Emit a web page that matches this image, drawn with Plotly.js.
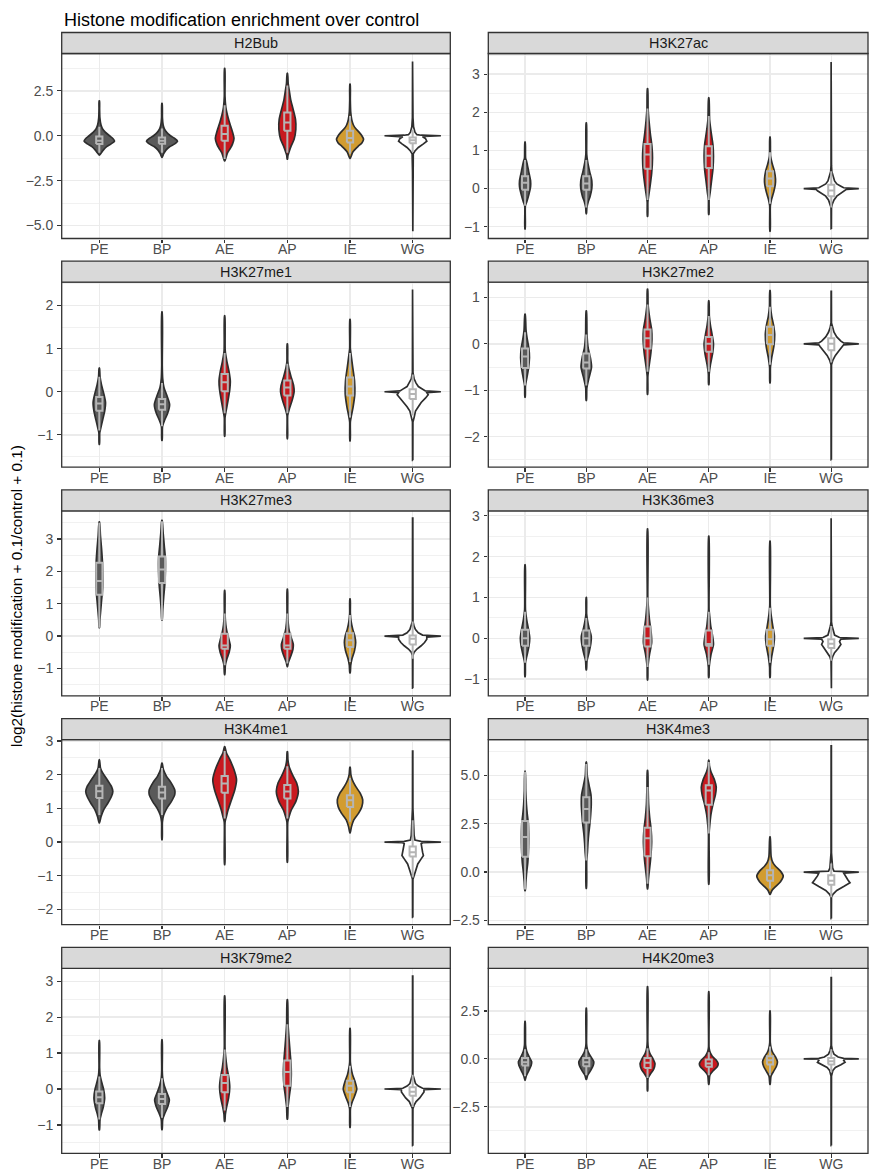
<!DOCTYPE html>
<html><head><meta charset="utf-8">
<script src="https://cdn.plot.ly/plotly-3.0.1.min.js"></script>
<style>html,body{margin:0;padding:0;background:#fff}#chart{width:870px;height:1170px}</style>
</head><body><div id="chart"></div>
<script>
const categories = ['PE','BP','AE','AP','IE','WG'];
const panelNames = ['H2Bub','H3K27ac','H3K27me1','H3K27me2','H3K27me3','H3K36me3','H3K4me1','H3K4me3','H3K79me2','H4K20me3'];

// Violin density profiles: per category, [value, relative density]
const H2Bub_violin = [
 [[-1.07,0.006],[-0.95,0.07],[-0.8,0.14],[-0.6,0.26],[-0.45,0.42],[-0.3,0.54],[-0.15,0.48],[0.0,0.36],[0.2,0.21],[0.4,0.11],[0.6,0.06],[1.0,0.02],[1.5,0.01],[1.94,0.006]],
 [[-1.2,0.006],[-1.0,0.06],[-0.8,0.14],[-0.6,0.28],[-0.45,0.45],[-0.3,0.55],[-0.15,0.45],[0,0.3],[0.2,0.16],[0.4,0.08],[0.6,0.04],[1.0,0.015],[1.8,0.006]],
 [[-1.39,0.006],[-1.2,0.05],[-0.95,0.1],[-0.7,0.2],[-0.45,0.28],[-0.15,0.33],[0.2,0.28],[0.5,0.22],[0.8,0.16],[1.2,0.09],[1.6,0.04],[2.2,0.012],[3.75,0.006]],
 [[-1.3,0.006],[-1.1,0.02],[-0.9,0.06],[-0.55,0.14],[-0.2,0.24],[0.35,0.3],[0.9,0.29],[1.5,0.2],[2.0,0.12],[2.5,0.07],[2.9,0.03],[3.48,0.006]],
 [[-1.26,0.006],[-1.1,0.05],[-0.9,0.1],[-0.6,0.28],[-0.4,0.42],[-0.2,0.48],[0.0,0.42],[0.2,0.32],[0.4,0.2],[0.6,0.12],[0.9,0.06],[1.3,0.025],[2.0,0.01],[2.87,0.006]],
 [[-5.31,0.005],[-2.0,0.006],[-1.0,0.02],[-0.85,0.08],[-0.65,0.2],[-0.45,0.38],[-0.3,0.5],[-0.15,0.45],[-0.06,0.35],[-0.03,0.4],[0,1.0],[0.03,0.3],[0.06,0.15],[0.2,0.08],[0.5,0.03],[1.0,0.01],[4.13,0.005]]
];
const H2Bub_box = [[-0.95,-0.46,-0.28,-0.04,0.5],[-0.95,-0.45,-0.28,-0.1,0.4],[-1.3,-0.28,0.1,0.56,1.7],[-0.95,0.28,0.74,1.3,2.8],[-1.0,-0.37,-0.12,0.28,1.1],[-0.9,-0.41,-0.25,-0.09,0.35]];

const H3K27ac_violin = [
 [[-1.06,0.006],[-0.45,0.012],[-0.35,0.06],[-0.15,0.14],[0.05,0.2],[0.2,0.2],[0.45,0.13],[0.7,0.06],[0.8,0.02],[1.22,0.006]],
 [[-0.66,0.006],[-0.5,0.02],[-0.35,0.07],[-0.2,0.14],[0.0,0.2],[0.2,0.2],[0.45,0.12],[0.7,0.05],[0.9,0.015],[1.72,0.006]],
 [[-0.73,0.006],[-0.35,0.012],[-0.2,0.04],[0.05,0.09],[0.4,0.15],[0.8,0.18],[1.1,0.16],[1.45,0.1],[1.8,0.05],[2.1,0.02],[2.62,0.006]],
 [[-0.68,0.006],[-0.3,0.012],[-0.1,0.05],[0.2,0.1],[0.5,0.15],[0.85,0.17],[1.15,0.15],[1.45,0.09],[1.8,0.03],[2.38,0.006]],
 [[-1.12,0.006],[-0.45,0.012],[-0.3,0.05],[-0.1,0.13],[0.1,0.19],[0.25,0.2],[0.45,0.16],[0.65,0.08],[0.85,0.02],[1.35,0.006]],
 [[-1.06,0.005],[-0.5,0.008],[-0.4,0.04],[-0.3,0.1],[-0.2,0.2],[-0.12,0.35],[-0.06,0.5],[-0.02,0.55],[0,1.0],[0.02,0.45],[0.06,0.35],[0.12,0.2],[0.2,0.12],[0.35,0.06],[0.45,0.02],[0.6,0.008],[3.32,0.005]]
];
const H3K27ac_box = [[-0.45,-0.03,0.15,0.32,0.75],[-0.5,-0.03,0.13,0.32,0.75],[-0.3,0.52,0.89,1.17,2.1],[-0.3,0.54,0.86,1.11,1.9],[-0.4,0.06,0.26,0.45,0.95],[-0.5,-0.2,-0.05,0.1,0.45]];

const H3K27me1_violin = [
 [[-1.22,0.006],[-0.95,0.015],[-0.85,0.05],[-0.65,0.12],[-0.45,0.19],[-0.25,0.22],[-0.05,0.16],[0.15,0.08],[0.35,0.025],[0.55,0.006]],
 [[-1.13,0.006],[-0.8,0.02],[-0.65,0.1],[-0.5,0.2],[-0.3,0.27],[-0.1,0.18],[0.1,0.07],[0.3,0.025],[0.6,0.01],[1.85,0.006]],
 [[-1.03,0.006],[-0.6,0.012],[-0.45,0.05],[-0.2,0.12],[0.05,0.18],[0.25,0.2],[0.45,0.16],[0.7,0.08],[0.95,0.02],[1.76,0.006]],
 [[-1.09,0.006],[-0.55,0.012],[-0.4,0.07],[-0.2,0.17],[0.0,0.24],[0.15,0.22],[0.35,0.13],[0.55,0.05],[0.7,0.015],[1.11,0.006]],
 [[-1.14,0.006],[-0.7,0.012],[-0.55,0.05],[-0.35,0.11],[-0.05,0.17],[0.25,0.16],[0.55,0.1],[0.85,0.04],[1.0,0.012],[1.68,0.006]],
 [[-1.59,0.005],[-0.7,0.008],[-0.6,0.05],[-0.45,0.1],[-0.35,0.2],[-0.25,0.3],[-0.15,0.45],[-0.07,0.55],[-0.02,0.5],[0,1.0],[0.02,0.45],[0.06,0.35],[0.12,0.2],[0.2,0.12],[0.3,0.05],[0.45,0.01],[2.37,0.005]]
];
const H3K27me1_box = [[-0.9,-0.44,-0.27,-0.12,0.35],[-0.8,-0.42,-0.29,-0.17,0.2],[-0.5,0.01,0.22,0.41,0.9],[-0.5,-0.09,0.1,0.26,0.65],[-0.6,-0.09,0.12,0.33,0.9],[-0.55,-0.17,-0.05,0.06,0.4]];

const H3K27me2_violin = [
 [[-1.15,0.006],[-0.9,0.015],[-0.75,0.06],[-0.55,0.12],[-0.3,0.16],[-0.1,0.14],[0.1,0.08],[0.3,0.035],[0.64,0.006]],
 [[-1.22,0.006],[-0.95,0.02],[-0.75,0.09],[-0.5,0.19],[-0.3,0.15],[-0.1,0.07],[0.2,0.025],[0.71,0.006]],
 [[-1.09,0.006],[-0.7,0.012],[-0.5,0.05],[-0.2,0.12],[0.1,0.16],[0.3,0.15],[0.55,0.08],[0.85,0.02],[1.18,0.006]],
 [[-0.88,0.006],[-0.65,0.015],[-0.45,0.06],[-0.2,0.14],[0.0,0.17],[0.2,0.12],[0.4,0.06],[0.6,0.02],[0.93,0.006]],
 [[-0.84,0.006],[-0.5,0.015],[-0.3,0.06],[-0.05,0.14],[0.2,0.17],[0.4,0.13],[0.6,0.06],[0.8,0.02],[1.15,0.006]],
 [[-2.5,0.005],[-0.45,0.008],[-0.35,0.06],[-0.25,0.15],[-0.15,0.28],[-0.06,0.4],[-0.02,0.45],[0,1.0],[0.02,0.45],[0.06,0.35],[0.15,0.2],[0.25,0.1],[0.35,0.04],[0.45,0.008],[1.13,0.005]]
];
const H3K27me2_box = [[-0.9,-0.52,-0.27,-0.1,0.25],[-0.9,-0.53,-0.4,-0.21,0.2],[-0.6,-0.1,0.12,0.31,0.85],[-0.6,-0.17,0.0,0.15,0.6],[-0.45,-0.01,0.19,0.37,0.8],[-0.4,-0.14,0.0,0.12,0.38]];

const H3K27me3_violin = [
 [[0.26,0.006],[0.5,0.02],[0.8,0.05],[1.1,0.08],[1.5,0.12],[1.9,0.12],[2.3,0.11],[2.7,0.08],[3.1,0.04],[3.53,0.006]],
 [[0.5,0.006],[0.8,0.025],[1.2,0.06],[1.6,0.1],[2.0,0.12],[2.4,0.12],[2.8,0.08],[3.2,0.04],[3.58,0.006]],
 [[-1.19,0.006],[-0.9,0.025],[-0.7,0.08],[-0.5,0.16],[-0.3,0.2],[-0.1,0.15],[0.1,0.09],[0.35,0.04],[0.7,0.012],[1.41,0.006]],
 [[-0.94,0.006],[-0.8,0.04],[-0.6,0.13],[-0.4,0.2],[-0.25,0.21],[-0.05,0.14],[0.15,0.07],[0.4,0.03],[0.75,0.012],[1.45,0.006]],
 [[-1.14,0.006],[-0.9,0.025],[-0.7,0.07],[-0.45,0.16],[-0.2,0.2],[0.0,0.17],[0.2,0.1],[0.45,0.04],[0.7,0.012],[1.15,0.006]],
 [[-1.61,0.005],[-0.6,0.008],[-0.5,0.05],[-0.4,0.15],[-0.3,0.3],[-0.2,0.42],[-0.1,0.5],[-0.03,0.5],[0,1.0],[0.03,0.35],[0.1,0.2],[0.2,0.1],[0.3,0.05],[0.45,0.01],[3.65,0.005]]
];
const H3K27me3_box = [[0.26,1.28,1.7,2.27,3.5],[0.5,1.64,2.06,2.46,3.55],[-0.9,-0.39,-0.29,0.07,0.7],[-0.85,-0.39,-0.29,0.07,0.7],[-0.8,-0.34,-0.13,0.09,0.65],[-0.7,-0.26,-0.08,0.02,0.45]];

const H3K36me3_violin = [
 [[-0.94,0.006],[-0.6,0.015],[-0.45,0.06],[-0.2,0.14],[0.0,0.17],[0.2,0.13],[0.45,0.06],[0.7,0.015],[1.8,0.006]],
 [[-0.77,0.006],[-0.55,0.025],[-0.35,0.1],[-0.1,0.17],[0.05,0.18],[0.25,0.1],[0.45,0.04],[0.6,0.012],[1.0,0.006]],
 [[-1.02,0.006],[-0.7,0.015],[-0.4,0.07],[-0.1,0.15],[0.15,0.13],[0.45,0.07],[0.8,0.025],[1.0,0.01],[2.68,0.006]],
 [[-0.96,0.006],[-0.7,0.015],[-0.4,0.08],[-0.15,0.17],[0.05,0.14],[0.3,0.07],[0.6,0.025],[0.7,0.01],[2.5,0.006]],
 [[-0.96,0.006],[-0.7,0.015],[-0.45,0.06],[-0.15,0.14],[0.05,0.16],[0.3,0.1],[0.6,0.035],[0.8,0.01],[2.38,0.006]],
 [[-1.22,0.005],[-0.55,0.008],[-0.45,0.05],[-0.35,0.12],[-0.25,0.25],[-0.15,0.35],[-0.08,0.3],[-0.02,0.35],[0,1.0],[0.02,0.3],[0.08,0.12],[0.2,0.06],[0.3,0.03],[0.4,0.008],[2.94,0.005]]
];
const H3K36me3_box = [[-0.6,-0.18,0.0,0.21,0.65],[-0.55,-0.18,0.0,0.19,0.5],[-0.7,-0.2,0.0,0.29,1.0],[-0.65,-0.18,-0.14,0.19,0.65],[-0.6,-0.18,-0.02,0.21,0.75],[-0.55,-0.24,-0.13,-0.02,0.3]];

const H3K4me1_violin = [
 [[0.57,0.006],[0.75,0.06],[0.95,0.15],[1.15,0.3],[1.35,0.43],[1.5,0.48],[1.65,0.43],[1.85,0.28],[2.05,0.12],[2.2,0.04],[2.44,0.006]],
 [[0.07,0.006],[0.6,0.015],[0.8,0.06],[1.0,0.17],[1.2,0.33],[1.4,0.45],[1.55,0.45],[1.75,0.33],[1.95,0.16],[2.15,0.05],[2.34,0.006]],
 [[-0.67,0.006],[0.6,0.015],[0.75,0.06],[0.95,0.12],[1.25,0.24],[1.55,0.36],[1.85,0.42],[2.15,0.33],[2.45,0.18],[2.65,0.06],[2.83,0.006]],
 [[-0.6,0.006],[0.6,0.015],[0.75,0.06],[0.95,0.14],[1.2,0.3],[1.5,0.39],[1.75,0.33],[2.0,0.18],[2.25,0.06],[2.45,0.02],[2.68,0.006]],
 [[0.27,0.006],[0.45,0.05],[0.65,0.13],[0.85,0.3],[1.05,0.42],[1.25,0.45],[1.45,0.36],[1.65,0.2],[1.85,0.08],[2.0,0.03],[2.22,0.006]],
 [[-2.24,0.005],[-1.1,0.008],[-1.0,0.05],[-0.85,0.1],[-0.65,0.18],[-0.5,0.3],[-0.4,0.38],[-0.3,0.35],[-0.15,0.33],[-0.05,0.3],[-0.02,0.35],[0,1.0],[0.02,0.3],[0.06,0.08],[0.2,0.05],[0.6,0.025],[1.0,0.008],[2.7,0.005]]
];
const H3K4me1_box = [[0.8,1.31,1.51,1.67,2.2],[0.8,1.29,1.47,1.64,2.2],[0.7,1.46,1.74,1.96,2.7],[0.7,1.29,1.5,1.69,2.25],[0.6,1.04,1.24,1.39,1.9],[-1.05,-0.43,-0.3,-0.13,0.65]];

const H3K4me3_violin = [
 [[-0.96,0.006],[-0.5,0.03],[0.0,0.06],[0.5,0.1],[1.0,0.12],[1.5,0.13],[2.0,0.13],[2.5,0.12],[3.0,0.08],[3.5,0.05],[4.2,0.025],[5.22,0.006]],
 [[-0.84,0.006],[0.6,0.015],[1.0,0.04],[1.5,0.06],[2.0,0.09],[2.5,0.13],[3.0,0.16],[3.5,0.18],[4.0,0.17],[4.5,0.1],[5.0,0.035],[5.7,0.006]],
 [[-0.87,0.006],[-0.4,0.03],[0.0,0.06],[0.5,0.1],[1.0,0.13],[1.6,0.15],[2.2,0.13],[2.8,0.08],[3.5,0.04],[4.4,0.02],[5.27,0.006]],
 [[-0.63,0.006],[2.0,0.012],[2.5,0.04],[3.0,0.08],[3.5,0.15],[4.0,0.24],[4.4,0.27],[4.8,0.2],[5.2,0.08],[5.5,0.025],[5.79,0.006]],
 [[-1.15,0.006],[-0.95,0.07],[-0.75,0.2],[-0.5,0.38],[-0.2,0.48],[0.05,0.38],[0.3,0.2],[0.5,0.1],[0.8,0.04],[1.82,0.006]],
 [[-2.41,0.005],[-1.3,0.008],[-1.15,0.06],[-0.95,0.2],[-0.75,0.45],[-0.55,0.68],[-0.4,0.6],[-0.2,0.5],[-0.05,0.45],[0,1.0],[0.05,0.1],[0.2,0.05],[0.5,0.025],[1.0,0.008],[6.53,0.005]]
];
const H3K4me3_box = [[-0.9,0.79,1.82,2.65,5.2],[0.6,2.57,3.26,3.87,5.6],[-0.6,0.82,1.75,2.3,4.4],[2.0,3.49,4.22,4.49,5.7],[-0.85,-0.45,-0.17,0.09,0.6],[-1.3,-0.66,-0.45,-0.17,0.45]];

const H3K79me2_violin = [
 [[-1.14,0.006],[-0.85,0.025],[-0.7,0.07],[-0.5,0.14],[-0.25,0.19],[0.0,0.15],[0.2,0.08],[0.4,0.025],[0.6,0.01],[1.35,0.006]],
 [[-1.13,0.006],[-0.85,0.025],[-0.7,0.09],[-0.5,0.2],[-0.3,0.26],[-0.1,0.17],[0.1,0.08],[0.3,0.025],[0.5,0.01],[1.37,0.006]],
 [[-0.9,0.006],[-0.7,0.025],[-0.5,0.07],[-0.25,0.14],[0.05,0.18],[0.3,0.15],[0.6,0.08],[0.9,0.035],[1.15,0.012],[2.59,0.006]],
 [[-0.84,0.006],[-0.5,0.025],[-0.2,0.07],[0.1,0.12],[0.4,0.14],[0.7,0.13],[1.0,0.1],[1.4,0.06],[1.8,0.025],[2.49,0.006]],
 [[-1.07,0.006],[-0.55,0.015],[-0.4,0.06],[-0.2,0.16],[0.0,0.24],[0.2,0.18],[0.4,0.09],[0.6,0.035],[0.75,0.012],[1.69,0.006]],
 [[-1.58,0.005],[-0.55,0.008],[-0.45,0.05],[-0.35,0.12],[-0.25,0.25],[-0.15,0.35],[-0.08,0.4],[-0.02,0.4],[0,1.0],[0.02,0.35],[0.08,0.2],[0.15,0.1],[0.3,0.04],[0.4,0.008],[3.14,0.005]]
];
const H3K79me2_box = [[-0.85,-0.4,-0.23,-0.07,0.35],[-0.8,-0.42,-0.28,-0.14,0.3],[-0.6,-0.09,0.17,0.39,1.1],[-0.5,0.09,0.47,0.79,1.8],[-0.5,-0.09,0.09,0.23,0.65],[-0.5,-0.19,-0.08,0.05,0.4]];

const H4K20me3_violin = [
 [[-1.1,0.006],[-0.9,0.04],[-0.6,0.14],[-0.35,0.22],[-0.15,0.24],[0.1,0.15],[0.4,0.06],[0.7,0.02],[1.95,0.006]],
 [[-1.07,0.006],[-0.85,0.05],[-0.6,0.16],[-0.35,0.25],[-0.15,0.27],[0.1,0.17],[0.35,0.07],[0.6,0.025],[0.8,0.01],[2.64,0.006]],
 [[-1.67,0.006],[-1.0,0.02],[-0.8,0.1],[-0.55,0.22],[-0.25,0.27],[0.0,0.2],[0.3,0.08],[0.6,0.025],[0.9,0.01],[3.76,0.006]],
 [[-1.33,0.006],[-0.85,0.04],[-0.6,0.17],[-0.4,0.31],[-0.25,0.34],[-0.05,0.26],[0.15,0.12],[0.4,0.035],[0.6,0.01],[3.5,0.006]],
 [[-1.33,0.006],[-0.9,0.035],[-0.65,0.13],[-0.4,0.23],[-0.15,0.27],[0.1,0.2],[0.35,0.09],[0.6,0.035],[0.85,0.01],[2.5,0.006]],
 [[-4.52,0.005],[-0.9,0.008],[-0.6,0.06],[-0.45,0.15],[-0.3,0.35],[-0.18,0.5],[-0.08,0.45],[-0.02,0.5],[0,1.0],[0.03,0.45],[0.1,0.25],[0.25,0.1],[0.45,0.04],[0.7,0.008],[4.24,0.005]]
];
const H4K20me3_box = [[-0.9,-0.34,-0.17,0.05,0.5],[-0.85,-0.38,-0.17,0.05,0.5],[-1.0,-0.47,-0.2,0.05,0.55],[-0.85,-0.41,-0.24,-0.03,0.35],[-0.85,-0.29,-0.07,0.14,0.65],[-0.7,-0.29,-0.12,0.05,0.5]];

const violinData = [H2Bub_violin,H3K27ac_violin,H3K27me1_violin,H3K27me2_violin,H3K27me3_violin,H3K36me3_violin,H3K4me1_violin,H3K4me3_violin,H3K79me2_violin,H4K20me3_violin];
const boxData = [H2Bub_box,H3K27ac_box,H3K27me1_box,H3K27me2_box,H3K27me3_box,H3K36me3_box,H3K4me1_box,H3K4me3_box,H3K79me2_box,H4K20me3_box];

// layout settings
const yRanges = [[-5.72,4.58],[-1.31,3.54],[-1.75,2.54],[-2.66,1.33],[-1.85,3.87],[-1.41,3.12],[-2.45,3.04],[-2.72,6.86],[-1.79,3.36],[-4.92,4.72]];
const yDticks = [2.5,1,1,1,1,1,1,2.5,1,2.5];
const fillColors = ['#5a5a5a','#5a5a5a','#c8191f','#c8191f','#d29c30','#ffffff'];

const W = 870, H = 1170;
const colX = [[61.7,450.3],[488.3,868]];
const rowTop = [53.5,282.2,510.9,739.6,968.3];
const plotH = 185, stripH = 21;
const FONT = 'Liberation Sans, Arial, sans-serif';
const VHALF = 0.45, BHALF = 0.05;
const TICKSIZE = 14;

const traces = [];
const layout = {
  width: W, height: H, margin: {l:0,r:0,t:0,b:0},
  paper_bgcolor: '#fff', plot_bgcolor: '#fff', showlegend: false,
  font: {family: FONT, color: '#4d4d4d'},
  shapes: [], annotations: []
};

panelNames.forEach((name, p) => {
  const col = p % 2, row = Math.floor(p / 2);
  const sfx = p === 0 ? '' : String(p + 1);
  const xa = 'x' + sfx, ya = 'y' + sfx;
  const x0 = colX[col][0] / W, x1 = colX[col][1] / W;
  const yTop = 1 - rowTop[row] / H, yBot = 1 - (rowTop[row] + plotH) / H;
  const sTop = 1 - (rowTop[row] - stripH) / H;
  layout['xaxis' + sfx] = {
    domain: [x0, x1], anchor: ya, range: [0.4, 6.6],
    tickmode: 'array', tickvals: categories.map((c, i) => i + 1), ticktext: categories,
    showgrid: true, gridcolor: '#ebebeb', gridwidth: 1.4, zeroline: false, showline: false,
    ticks: 'outside', ticklen: 3.6, tickwidth: 1.2, tickcolor: '#333333', ticklabelstandoff: -6,
    tickfont: {family: FONT, size: TICKSIZE, color: '#4d4d4d'}, fixedrange: true
  };
  layout['yaxis' + sfx] = {
    domain: [yBot, yTop], anchor: xa, range: yRanges[p],
    tick0: 0, dtick: yDticks[p], tickformat: yDticks[p] === 2.5 ? '.1f' : '',
    showgrid: true, gridcolor: '#ebebeb', gridwidth: 1.4, zeroline: false, showline: false,
    minor: {dtick: yDticks[p] / 2, tick0: 0, showgrid: true, gridcolor: '#ebebeb', gridwidth: 0.7},
    ticks: 'outside', ticklen: 3.6, tickwidth: 1.2, tickcolor: '#333333', ticklabelstandoff: 1,
    tickfont: {family: FONT, size: TICKSIZE, color: '#4d4d4d'}, fixedrange: true
  };
  // panel border
  layout.shapes.push({type:'rect', xref:'paper', yref:'paper', x0:x0, x1:x1, y0:yBot, y1:yTop,
    line:{color:'#333333', width:1.3}, fillcolor:'rgba(0,0,0,0)', layer:'above'});
  // strip
  layout.shapes.push({type:'rect', xref:'paper', yref:'paper', x0:x0, x1:x1, y0:yTop, y1:sTop,
    line:{color:'#333333', width:1.3}, fillcolor:'#d9d9d9', layer:'above'});
  layout.annotations.push({text: name, xref:'paper', yref:'paper', x:(x0+x1)/2, y:(yTop+sTop)/2,
    xanchor:'center', yanchor:'middle', showarrow:false, font:{family:FONT, size:14.4, color:'#1a1a1a'}});

  categories.forEach((cat, g) => {
    const pos = g + 1;
    const prof = violinData[p][g];
    const xs = [], ys = [];
    prof.forEach(pt => { xs.push(pos + VHALF * pt[1]); ys.push(pt[0]); });
    for (let i = prof.length - 1; i >= 0; i--) { xs.push(pos - VHALF * prof[i][1]); ys.push(prof[i][0]); }
    xs.push(xs[0]); ys.push(ys[0]);
    traces.push({type:'scatter', mode:'lines', x:xs, y:ys, xaxis:xa, yaxis:ya,
      fill:'toself', fillcolor: fillColors[g],
      line:{color:'#2e2e2e', width:1.7, shape: g === 5 ? 'linear' : 'spline', smoothing: 0.7},
      hoverinfo:'skip', showlegend:false});
    const b = boxData[p][g];
    const lo = b[0], q1 = b[1], md = b[2], q3 = b[3], hi = b[4];
    traces.push({type:'scatter', mode:'lines', x:[pos,pos,null,pos,pos], y:[lo,q1,null,q3,hi],
      xaxis:xa, yaxis:ya, line:{color:'#b5b5b5', width:2}, hoverinfo:'skip', showlegend:false});
    traces.push({type:'scatter', mode:'lines', x:[pos-BHALF,pos+BHALF,pos+BHALF,pos-BHALF,pos-BHALF],
      y:[q1,q1,q3,q3,q1], xaxis:xa, yaxis:ya, fill:'toself', fillcolor: fillColors[g],
      line:{color:'#b5b5b5', width:2}, hoverinfo:'skip', showlegend:false});
    traces.push({type:'scatter', mode:'lines', x:[pos-BHALF,pos+BHALF], y:[md,md],
      xaxis:xa, yaxis:ya, line:{color:'#b5b5b5', width:2}, hoverinfo:'skip', showlegend:false});
  });
});

layout.annotations.push({text:'Histone modification enrichment over control', xref:'paper', yref:'paper',
  x: 61.7 / W, y: 1 - 20 / H, xanchor:'left', yanchor:'middle', showarrow:false,
  font:{family:FONT, size:18, color:'#000000'}});
layout.annotations.push({text:'log2(histone modification + 0.1/control + 0.1)', xref:'paper', yref:'paper',
  x: 16 / W, y: 1 - 596 / H, xanchor:'center', yanchor:'middle', textangle:-90, showarrow:false,
  font:{family:FONT, size:15.3, color:'#000000'}});

Plotly.newPlot('chart', traces, layout, {staticPlot:true, displayModeBar:false});
</script></body></html>
